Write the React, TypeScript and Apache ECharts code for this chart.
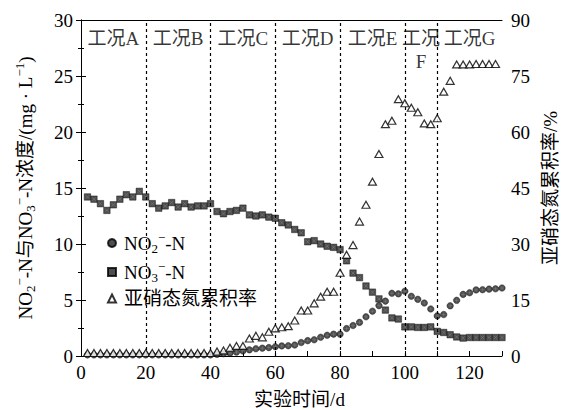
import React, { useEffect, useRef } from "react";
import * as echarts from "echarts";

const days = [2, 4, 6, 8, 10, 12, 14, 16, 18, 20, 22, 24, 26, 28, 30, 32, 34, 36, 38, 40,
  42, 44, 46, 48, 50, 52, 54, 56, 58, 60, 62, 64, 66, 68, 70, 72, 74, 76, 78, 80,
  82, 84, 86, 88, 90, 92, 94, 96, 98, 100, 102, 104, 106, 108, 110, 112, 114, 116, 118, 120,
  122, 124, 126, 128, 130];

const no3 = [14.2, 14.0, 13.6, 13.0, 13.5, 14.0, 14.4, 14.2, 14.7, 14.2,
  13.6, 13.2, 13.4, 13.7, 13.3, 13.6, 13.3, 13.4, 13.4, 13.6,
  12.9, 12.7, 12.9, 13.0, 13.2, 12.6, 12.5, 12.6, 12.4, 12.3,
  11.9, 11.7, 11.3, 11.0, 10.2, 10.3, 10.0, 9.8, 9.7, 9.5,
  8.5, 7.4, 7.0, 6.25, 5.7, 5.1, 4.1, 3.4, 3.3, 2.6,
  2.6, 2.55, 2.55, 2.6, 2.2, 2.1, 1.9, 1.7, 1.6, 1.65,
  1.65, 1.65, 1.65, 1.65, 1.65];

const no2 = [0.1, 0.1, 0.1, 0.1, 0.1, 0.1, 0.1, 0.1, 0.1, 0.1,
  0.1, 0.1, 0.1, 0.1, 0.1, 0.1, 0.1, 0.1, 0.1, 0.1,
  0.15, 0.2, 0.25, 0.35, 0.45, 0.55, 0.65, 0.7, 0.75, 0.83,
  0.9, 0.92, 0.98, 1.2, 1.37, 1.45, 1.67, 1.85, 1.95, 1.95,
  2.45, 2.72, 3.0, 3.5, 4.0, 4.5, 4.9, 5.6, 5.55, 5.78,
  5.33, 5.06, 4.73, 4.2, 3.58, 3.7, 4.48, 4.97, 5.5, 5.65,
  5.9, 5.92, 5.97, 6.0, 6.07];

const accum = [0.8, 0.8, 0.8, 0.8, 0.8, 0.8, 0.8, 0.8, 0.8, 0.8,
  0.8, 0.8, 0.8, 0.8, 0.8, 0.8, 0.8, 0.8, 0.8, 0.8,
  1.2, 1.5, 2.2, 2.7, 2.7, 4.7, 5.4, 5.0, 6.5, 7.4,
  7.7, 8.0, 9.5, 12.2, 12.2, 14.1, 15.9, 17.2, 17.2, 22.3,
  27.1, 29.7, 36.0, 40.5, 46.7, 54.1, 62.1, 63.0, 68.8, 67.7,
  66.5, 65.3, 62.3, 62.1, 63.7, 70.8, 73.7, 78.1, 78.1, 78.1,
  78.2, 78.2, 78.2, 78.2, null];

const stageBounds = [20, 40, 60, 80, 100, 110];
const stageCenters = [10, 30, 50, 70, 90, 105, 120];
const stageNames = ["工况A", "工况B", "工况C", "工况D", "工况E", "工况\nF", "工况G"];

const leftTicks = { min: 0, max: 30, interval: 5 };
const rightTicks = { min: 0, max: 90, interval: 15 };
const xTicks = { min: 0, max: 130, interval: 10 };

const FONT = "'Times New Roman', 'Liberation Serif', 'Noto Sans CJK SC', serif";

const rich = {
  a: { fontSize: 19, lineHeight: 24, fontFamily: FONT, color: "#000" },
  sub: { fontSize: 13, lineHeight: 13, verticalAlign: "bottom", fontFamily: FONT, color: "#000" },
  sup: { fontSize: 13, lineHeight: 13, verticalAlign: "top", fontFamily: FONT, color: "#000" },
};

const legendRich: Record<string, string> = {
  no2: "{a|NO}{sub|2}{sup|−}{a|-N}",
  no3: "{a|NO}{sub|3}{sup|−}{a|-N}",
  acc: "{a|亚硝态氮累积率}",
};

export default function App() {
  const ref = useRef<HTMLDivElement>(null);
  useEffect(() => {
    if (!ref.current) return;
    const chart = echarts.init(ref.current, undefined, { renderer: "svg" });
    const pairs = (ys: (number | null)[]) => days.map((d, i) => [d, ys[i]]);
    const option: any = {
      animation: false,
      backgroundColor: "#fff",
      grid: { left: 81, right: 64, top: 20, bottom: 54, containLabel: false, outerBoundsMode: "none" },
      legend: {
        orient: "vertical",
        left: 102,
        top: 226,
        itemGap: 5,
        itemWidth: 8,
        itemHeight: 8,
        data: ["no2", "no3", "acc"],
        formatter: (n: string) => legendRich[n],
        textStyle: { fontSize: 19, fontFamily: FONT, color: "#000", padding: [0, 0, 0, 3], rich },
      },
      xAxis: [
        {
          type: "value",
          min: xTicks.min,
          max: xTicks.max,
          interval: xTicks.interval,
          name: "实验时间/d",
          nameLocation: "middle",
          nameGap: 34,
          nameTextStyle: { fontSize: 19, fontFamily: FONT, color: "#000", padding: [0, 0, 0, 16] },
          axisLine: { lineStyle: { color: "#000", width: 1 } },
          axisTick: { inside: true, length: 5, lineStyle: { color: "#000" } },
          axisLabel: {
            fontSize: 19,
            fontFamily: FONT,
            color: "#000",
            margin: 7,
            formatter: (v: number) => (v % 20 === 0 ? String(v) : ""),
          },
          splitLine: { show: false },
        },
        {
          type: "value",
          position: "top",
          min: xTicks.min,
          max: xTicks.max,
          axisLine: { show: true, onZero: false, lineStyle: { color: "#000", width: 1 } },
          axisTick: { show: false },
          axisLabel: { show: false },
          splitLine: { show: false },
        },
      ],
      yAxis: [
        {
          type: "value",
          min: leftTicks.min,
          max: leftTicks.max,
          interval: leftTicks.interval,
          name:
            "{a|NO}{sub|2}{sup|−}{a|-N与NO}{sub|3}{sup|−}{a|-N浓度/(mg · L}{sup|−1}{a|)}",
          nameLocation: "middle",
          nameRotate: 90,
          nameGap: 44,
          nameTextStyle: { fontSize: 19, fontFamily: FONT, color: "#000", rich },
          axisLine: { show: true, lineStyle: { color: "#000", width: 1 } },
          axisTick: { inside: true, length: 5, lineStyle: { color: "#000" } },
          minorTick: { show: true, splitNumber: 2, length: 3, lineStyle: { color: "#000" } },
          axisLabel: { fontSize: 19, fontFamily: FONT, color: "#000", margin: 8 },
          splitLine: { show: false },
        },
        {
          type: "value",
          position: "right",
          min: rightTicks.min,
          max: rightTicks.max,
          interval: rightTicks.interval,
          name: "亚硝态氮累积率/%",
          nameLocation: "middle",
          nameRotate: 90,
          nameGap: 36,
          nameTextStyle: { fontSize: 19, fontFamily: FONT, color: "#000" },
          axisLine: { show: true, lineStyle: { color: "#000", width: 1 } },
          axisTick: { inside: true, length: 5, lineStyle: { color: "#000" } },
          minorTick: { show: true, splitNumber: 2, length: 3, lineStyle: { color: "#000" } },
          axisLabel: { fontSize: 19, fontFamily: FONT, color: "#000", margin: 9 },
          splitLine: { show: false },
        },
      ],
      series: [
        {
          name: "stages",
          type: "scatter",
          xAxisIndex: 0,
          yAxisIndex: 0,
          silent: true,
          symbolSize: 1,
          itemStyle: { color: "transparent" },
          data: stageCenters.map((c, i) => ({ value: [c, 30], name: stageNames[i] })),
          label: {
            show: true,
            position: "bottom",
            distance: 6,
            formatter: (p: any) => p.name,
            fontSize: 19,
            lineHeight: 23,
            fontFamily: FONT,
            color: "#000",
          },
          markLine: {
            silent: true,
            symbol: ["none", "none"],
            label: { show: false },
            lineStyle: { color: "#000", type: [3, 3], width: 1.2 },
            data: stageBounds.map((b) => ({ xAxis: b })),
          },
          z: 1,
        },
        {
          name: "no2",
          type: "scatter",
          yAxisIndex: 0,
          symbol: "circle",
          symbolSize: 6.5,
          itemStyle: { color: "#222", borderColor: "#000", borderWidth: 0.5 },
          data: pairs(no2),
          z: 3,
        },
        {
          name: "no2x",
          type: "scatter",
          yAxisIndex: 0,
          silent: true,
          symbol: "path://M0,5L10,5M5,0L5,10",
          symbolSize: 4,
          itemStyle: { color: "transparent", borderColor: "#8a8a8a", borderWidth: 0.6 },
          data: pairs(no2),
          z: 4,
        },
        {
          name: "no3",
          type: "scatter",
          yAxisIndex: 0,
          symbol: "rect",
          symbolSize: 6.5,
          itemStyle: { color: "#222", borderColor: "#000", borderWidth: 0.5 },
          data: pairs(no3),
          z: 3,
        },
        {
          name: "no3x",
          type: "scatter",
          yAxisIndex: 0,
          silent: true,
          symbol: "path://M0,0L10,10M10,0L0,10",
          symbolSize: 3.5,
          itemStyle: { color: "transparent", borderColor: "#8a8a8a", borderWidth: 0.6 },
          data: pairs(no3),
          z: 4,
        },
        {
          name: "acc",
          type: "scatter",
          yAxisIndex: 1,
          symbol: "triangle",
          symbolSize: [8, 7],
          itemStyle: { color: "#fff", borderColor: "#000", borderWidth: 1.2 },
          data: pairs(accum).filter((p) => p[1] !== null),
          z: 5,
        },
      ],
    };
    chart.setOption(option);
    return () => chart.dispose();
  }, []);
  return (
    <div
      ref={ref}
      style={{ position: "fixed", left: 0, top: 0, width: 566, height: 410, overflow: "hidden" }}
    />
  );
}
